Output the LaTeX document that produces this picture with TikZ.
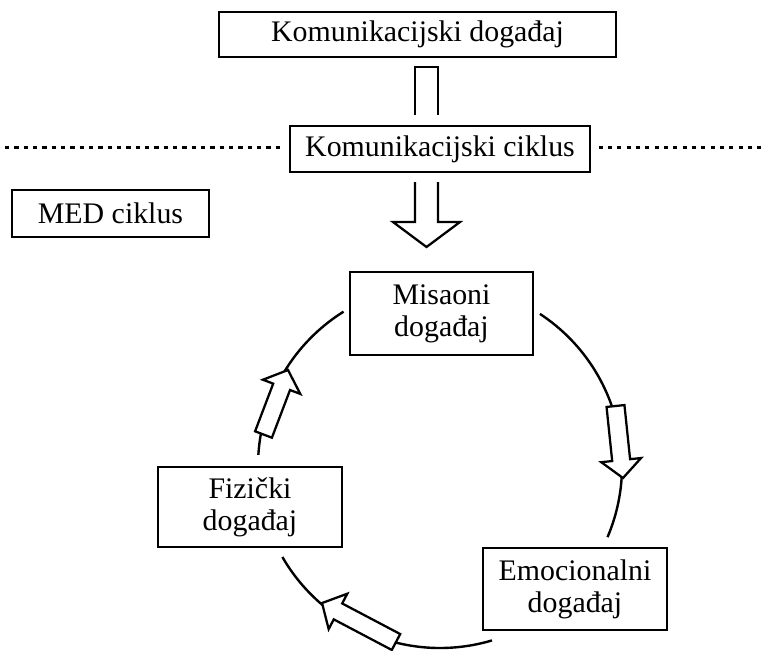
\documentclass[tikz,border=0pt]{standalone}
\usepackage{fontspec}
\setmainfont{Liberation Serif}
\begin{document}
\begin{tikzpicture}[x=0.75pt,y=0.75pt,
  box/.style={draw=black,line width=0.8pt,fill=white,inner sep=0pt,align=center,
    font=\fontsize{22.4}{24.2}\selectfont},
  ring/.style={line width=1.8pt,black},
  blk/.style={draw=black,line width=1.7pt,fill=white,line join=miter},
  dots/.style={line width=2.9pt,dash pattern=on 3.2pt off 3.8pt}]
\useasboundingbox (0,0) rectangle (767,-650);
\newcommand{\blkarrow}[4]{%
  \begin{scope}[shift={(#1,#2)},rotate=#3]
    \draw[blk] (0,-9) -- ({#4-18},-9) -- ({#4-18},-20) -- (#4,0) -- ({#4-18},20) -- ({#4-18},9) -- (0,9) -- cycle;
  \end{scope}}
% boxes
\node[box,minimum width={397*0.75pt},minimum height={45*0.75pt}] (top) at (417.5,-34.5) {Komunikacijski događaj};
\node[box,minimum width={300*0.75pt},minimum height={46*0.75pt}] (cik) at (440,-149) {Komunikacijski ciklus};
\node[box,minimum width={197*0.75pt},minimum height={47*0.75pt}] (med) at (110.5,-213.5) {MED ciklus};
\node[box,minimum width={183*0.75pt},minimum height={83*0.75pt}] (mis) at (441.5,-313.5) {Misaoni\\događaj};
\node[box,minimum width={184*0.75pt},minimum height={80*0.75pt}] (fiz) at (250,-507) {Fizički\\događaj};
\node[box,minimum width={184*0.75pt},minimum height={82*0.75pt}] (emo) at (575,-589) {Emocionalni\\događaj};
% dotted line
\coordinate (dl) at (5,-147.5);
\coordinate (dr) at (763,-147.5);
\draw[dots] (dl) -- ([xshift=-6pt]dl -| cik.west);
\draw[dots] ([xshift=6pt]dr -| cik.east) -- (dr);
% top open arrow piece
\draw[line width=1.7pt] (415,-115) -- (415,-67) -- (438,-67) -- (438,-115);
% down arrow
\draw[blk] (415,-182) -- (415,-222) -- (393,-222) -- (426.5,-247) -- (460,-222) -- (438,-222) -- (438,-182);
% circle arcs
\coordinate (C) at (440,-466);
\draw[ring] ([shift={(122:182)}]C) arc[start angle=122,end angle=176.5,radius=182];
\draw[ring] ([shift={(56.7:182)}]C) arc[start angle=56.7,end angle=-23,radius=182];
\draw[ring] ([shift={(-150:182)}]C) arc[start angle=-150,end angle=-73.4,radius=182];
% block arrows on the ring
\blkarrow{615.5}{-406}{-84.05}{72.4}
\blkarrow{396}{-642}{152.2}{83.6}
\blkarrow{263.5}{-434.5}{69.2}{69}
\end{tikzpicture}
\end{document}
